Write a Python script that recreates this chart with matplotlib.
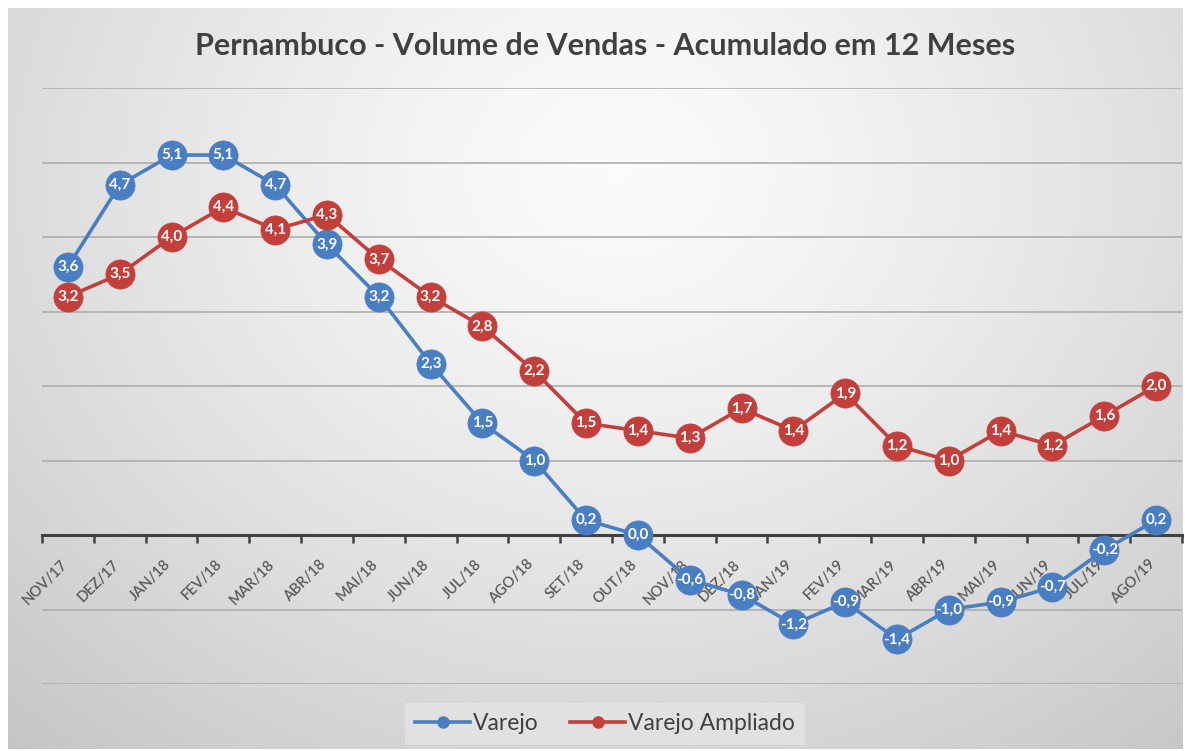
import numpy as np
import matplotlib
matplotlib.use("Agg")
import matplotlib.pyplot as plt
from matplotlib.transforms import ScaledTranslation
from matplotlib.lines import Line2D

months = ["NOV/17", "DEZ/17", "JAN/18", "FEV/18", "MAR/18", "ABR/18", "MAI/18",
          "JUN/18", "JUL/18", "AGO/18", "SET/18", "OUT/18", "NOV/18", "DEZ/18",
          "JAN/19", "FEV/19", "MAR/19", "ABR/19", "MAI/19", "JUN/19", "JUL/19", "AGO/19"]
varejo = [3.6, 4.7, 5.1, 5.1, 4.7, 3.9, 3.2, 2.3, 1.5, 1.0, 0.2, 0.0, -0.6, -0.8,
          -1.2, -0.9, -1.4, -1.0, -0.9, -0.7, -0.2, 0.2]
ampliado = [3.2, 3.5, 4.0, 4.4, 4.1, 4.3, 3.7, 3.2, 2.8, 2.2, 1.5, 1.4, 1.3, 1.7,
            1.4, 1.9, 1.2, 1.0, 1.4, 1.2, 1.6, 2.0]
series_names = ["Varejo", "Varejo Ampliado"]
title = "Pernambuco - Volume de Vendas - Acumulado em 12 Meses"

plt.rcParams['font.family'] = ['Lato', 'DejaVu Sans']

W, H = 1185, 751
fig = plt.figure(figsize=(W / 100, H / 100), dpi=100, facecolor='white')

# gradient background
bg = fig.add_axes([8 / W, 2 / H, (W - 10) / W, (H - 10) / H])
bg.set_axis_off()
yy, xx = np.mgrid[0:1:300j, 0:1:500j]
d = np.sqrt(((xx - 0.52) / 0.75) ** 2 + ((yy - 0.22) / 1.0) ** 2)
val = 0.985 - 0.20 * np.clip(d, 0, 1.2) ** 1.3
val = np.clip(val, 0.75, 1)
img = np.dstack([val, val, val])
bg.imshow(img, aspect='auto', extent=[0, 1, 1, 0], interpolation='bicubic')
bg.set_xlim(0, 1)
bg.set_ylim(1, 0)

ax = fig.add_axes([42 / W, 1 - 684 / H, 1140 / W, 596 / H])
ax.patch.set_alpha(0)
x = np.arange(len(months))

blue = '#4a7ec2'
red = '#c23f3b'

ax.set_xlim(-0.5, len(months) - 0.5)
ax.set_ylim(-2, 6)
ax.set_yticks(range(-2, 7))
ax.tick_params(axis='y', length=0, labelleft=False)
for v in range(-2, 7):
    if v != 0:
        ax.axhline(v, color='#adadad', lw=1.2, zorder=1)

for s in ['top', 'right', 'left']:
    ax.spines[s].set_visible(False)
ax.spines['bottom'].set_position(('data', 0))
ax.spines['bottom'].set_color('#404040')
ax.spines['bottom'].set_linewidth(2.2)
ax.spines['bottom'].set_zorder(2)

ax.set_xticks(x)
ax.set_xticklabels(months, rotation=45, ha='right', va='top',
                   rotation_mode='anchor', fontsize=10.5, color='#595959',
                   fontweight='semibold')
ax.set_xticks(np.arange(-0.5, len(months)), minor=True)
ax.tick_params(axis='x', which='major', length=0, pad=16)
ax.tick_params(axis='x', which='minor', length=6, width=1.8, color='#404040', direction='out')
offset = ScaledTranslation(-8 / 100, 0, fig.dpi_scale_trans)
for lab in ax.get_xticklabels():
    lab.set_transform(lab.get_transform() + offset)

for vals, col, z in [(varejo, blue, 3), (ampliado, red, 5)]:
    ax.plot(x, vals, color=col, lw=2.6, marker='o', markersize=21,
            markeredgecolor=col, markeredgewidth=0.5, zorder=z, clip_on=False)
    for xi, v in zip(x, vals):
        ax.text(xi, v, f"{v:.1f}".replace('.', ','), ha='center', va='center',
                color='white', fontsize=11, fontweight='bold', zorder=z + 1)

fig.text(605 / W, 1 - 46 / H, title, ha='center', va='center',
         fontsize=22, fontweight='bold', color='#404040')

handles = [Line2D([0], [0], color=blue, lw=2.6, marker='o', markersize=8),
           Line2D([0], [0], color=red, lw=2.6, marker='o', markersize=8)]
leg = fig.legend(handles, series_names, loc='center',
                 bbox_to_anchor=(605 / W, 1 - 724 / H), ncol=2, frameon=True,
                 fancybox=False, fontsize=16.5, handlelength=2.4, handletextpad=0.1,
                 columnspacing=1.4, borderpad=0.45, borderaxespad=0)
leg.get_frame().set_facecolor('#e4e4e4')
leg.get_frame().set_edgecolor('none')
for t in leg.get_texts():
    t.set_color('#404040')

fig.savefig('out.png', dpi=100, facecolor='white')
